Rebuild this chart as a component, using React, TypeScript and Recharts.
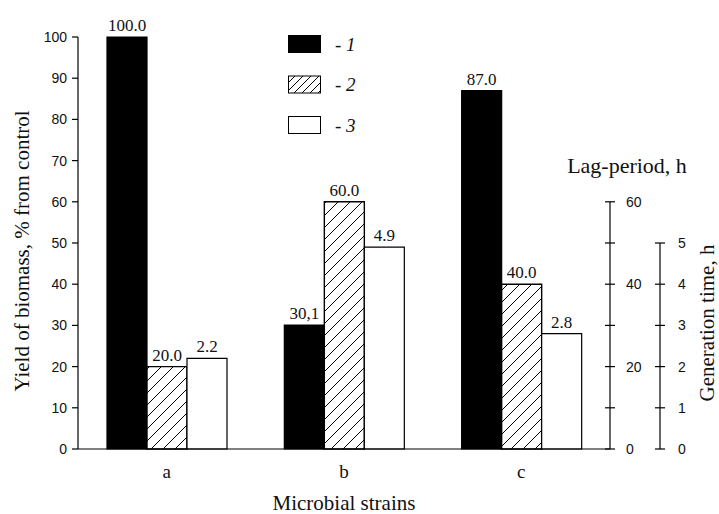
import React from 'react';
import { BarChart, Bar, XAxis, YAxis, Legend, LabelList } from 'recharts';

const strains = ['a', 'b', 'c'];
const yieldBiomass = [100, 30.1, 87];
const lagPeriod = [20, 60, 40];
const generationTime = [2.2, 4.9, 2.8];
const yieldLabels = ['100.0', '30,1', '87.0'];
const lagLabels = ['20.0', '60.0', '40.0'];
const genLabels = ['2.2', '4.9', '2.8'];

const leftTicks = [0, 10, 20, 30, 40, 50, 60, 70, 80, 90, 100];
const lagTicks = [0, 10, 20, 30, 40, 50, 60];
const lagLabelTicks = [0, 20, 40, 60];
const genTicks = [0, 1, 2, 3, 4, 5];
const legendNames = ['1', '2', '3'];

const data = strains.map((s, i) => ({
  strain: s,
  yield: yieldBiomass[i],
  lag: lagPeriod[i],
  gen: generationTime[i],
  yieldLabel: yieldLabels[i],
  lagLabel: lagLabels[i],
  genLabel: genLabels[i],
}));

const W = 719;
const H = 514;
const TOP = 37;
const X_H = 65;
const PLOT_H = H - TOP - X_H;

const serif = '"Liberation Serif", "Times New Roman", serif';
const sans = '"Liberation Sans", Arial, sans-serif';
const ink = '#111';

// right-hand axes: the line only runs up to the last tick, so draw it per tick
function rightTick(step: number, showLabel: (v: number) => boolean, labelDx: number) {
  return (props: any) => {
    const { x, y, payload } = props;
    const v = payload.value;
    return (
      <g>
        <line x1={x - 5} x2={x + 5} y1={y} y2={y} stroke="#000" strokeWidth={1.2} />
        {v > 0 && <line x1={x} x2={x} y1={y} y2={y + step} stroke="#000" strokeWidth={1.2} />}
        {showLabel(v) && (
          <text x={x + labelDx} y={y} dy="0.36em" textAnchor="start" fontFamily={sans} fontSize={14} fill={ink}>
            {v}
          </text>
        )}
      </g>
    );
  };
}

const LagTick = rightTick((PLOT_H * 10) / 100, (v) => lagLabelTicks.includes(v), 16);
const GenTick = rightTick(PLOT_H / 10, () => true, 18);

function LegendBox() {
  const fills = ['#000', 'url(#hatchLegend)', '#fff'];
  return (
    <svg width={90} height={110}>
      <defs>
        <pattern id="hatchLegend" width={8} height={8} patternUnits="userSpaceOnUse">
          <rect width={8} height={8} fill="#fff" />
          <path d="M0,8 L8,0 M-2,2 L2,-2 M6,10 L10,6" stroke="#000" strokeWidth={1} />
        </pattern>
      </defs>
      {legendNames.map((n, i) => (
        <g key={n}>
          <rect x={0.5} y={0.5 + i * 40.5} width={32} height={17} fill={fills[i]} stroke="#000" strokeWidth={1} />
          <text x={47} y={9 + i * 40.5} dy="0.36em" fontFamily={serif} fontStyle="italic" fontSize={19} fill={ink}>
            {'- ' + n}
          </text>
        </g>
      ))}
    </svg>
  );
}

const labelStyle = { fontFamily: serif, fontSize: 17, fill: ink };

export default function App() {
  return (
    <div style={{ position: 'absolute', left: 0, top: 0, background: '#fff' }}>
      <BarChart
        width={W}
        height={H}
        data={data}
        margin={{ top: TOP, right: 0, bottom: 0, left: 0 }}
        barCategoryGap={29}
        barGap={0}
      >
        <defs>
          <pattern id="hatch" width={12} height={12} patternUnits="userSpaceOnUse">
            <rect width={12} height={12} fill="#fff" />
            <path d="M0,12 L12,0 M-3,3 L3,-3 M9,15 L15,9" stroke="#000" strokeWidth={1} />
          </pattern>
        </defs>
        <XAxis
          dataKey="strain"
          height={X_H}
          tickLine={false}
          tickSize={0}
          tickMargin={16}
          axisLine={{ stroke: '#000', strokeWidth: 1.2 }}
          tick={{ fontFamily: serif, fontSize: 19, fill: ink }}
          label={{ value: 'Microbial strains', position: 'center', dy: 21, style: { fontFamily: serif, fontSize: 21, fill: ink } }}
        />
        <YAxis
          yAxisId="left"
          width={78}
          domain={[0, 100]}
          ticks={leftTicks}
          interval={0}
          tickSize={6}
          tickMargin={5}
          axisLine={{ stroke: '#000', strokeWidth: 1.2 }}
          tickLine={{ stroke: '#000', strokeWidth: 1.2 }}
          tick={{ fontFamily: sans, fontSize: 14, fill: ink }}
          label={{ value: 'Yield of biomass, % from control', angle: -90, position: 'center', dx: -17, dy: 8, style: { fontFamily: serif, fontSize: 21, fill: ink } }}
        />
        <YAxis
          yAxisId="right1"
          orientation="right"
          width={50}
          domain={[0, 100]}
          ticks={lagTicks}
          interval={0}
          tickSize={0}
          tickMargin={0}
          axisLine={false}
          tickLine={false}
          tick={LagTick}
          label={{ value: 'Lag-period, h', position: 'center', dx: -8, dy: -78, style: { fontFamily: serif, fontSize: 22, fill: ink } }}
        />
        <YAxis
          yAxisId="right2"
          orientation="right"
          width={59}
          domain={[0, 10]}
          ticks={genTicks}
          interval={0}
          tickSize={0}
          tickMargin={0}
          axisLine={false}
          tickLine={false}
          tick={GenTick}
          label={{ value: 'Generation time, h', angle: -90, position: 'center', dx: 17, dy: 80, style: { fontFamily: serif, fontSize: 21, fill: ink } }}
        />
        <Legend
          layout="horizontal"
          verticalAlign="middle"
          align="center"
          wrapperStyle={{ position: 'absolute', left: 288, top: 35, width: 90, height: 110 }}
          content={() => <LegendBox />}
        />
        <Bar dataKey="yield" yAxisId="left" fill="#000" stroke="#000" strokeWidth={1.2} isAnimationActive={false}>
          <LabelList dataKey="yieldLabel" position="top" offset={6} style={labelStyle} />
        </Bar>
        <Bar dataKey="lag" yAxisId="right1" fill="url(#hatch)" stroke="#000" strokeWidth={1.4} isAnimationActive={false}>
          <LabelList dataKey="lagLabel" position="top" offset={6} style={labelStyle} />
        </Bar>
        <Bar dataKey="gen" yAxisId="right2" fill="#fff" stroke="#000" strokeWidth={1.2} isAnimationActive={false}>
          <LabelList dataKey="genLabel" position="top" offset={6} style={labelStyle} />
        </Bar>
      </BarChart>
    </div>
  );
}
